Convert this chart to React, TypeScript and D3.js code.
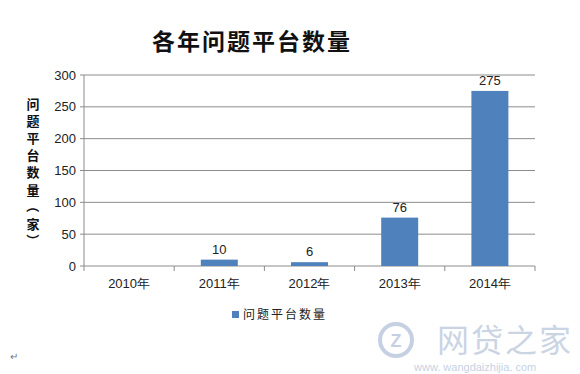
import React from "react";
import * as d3 from "d3";

const categories = ["2010年", "2011年", "2012年", "2013年", "2014年"];
const values: (number | null)[] = [null, 10, 6, 76, 275];
const yTicks = [0, 50, 100, 150, 200, 250, 300];
const title = "各年问题平台数量";
const yLabel = ["问", "题", "平", "台", "数", "量", "（", "家", "）"];
const legendLabel = "问题平台数量";

export default function App() {
  const W = 580, H = 374;
  const left = 84, right = 535, top = 75, bottom = 266;
  const x = d3.scaleBand<string>().domain(categories).range([left, right]).paddingInner(0.59).paddingOuter(0.295);
  const xb = d3.scaleBand<string>().domain(categories).range([left, right]);
  const y = d3.scaleLinear().domain([0, 300]).range([bottom, top]);
  const barColor = "#4F81BD";
  const cjk = "'Noto Sans CJK SC', sans-serif";
  const latin = "Arial, 'Liberation Sans', sans-serif";
  return (
    <svg width={W} height={H} style={{ position: "absolute", left: 0, top: 0, background: "#fff" }}>
      <rect width={W} height={H} fill="#fff" />
      <text x={252} y={50} textAnchor="middle" fontFamily={cjk} fontWeight={700} fontSize={23} letterSpacing={2} fill="#111">{title}</text>
      {yTicks.map(t => (
        <g key={t}>
          {t > 0 && <line x1={left} x2={right} y1={y(t)} y2={y(t)} stroke="#8c8c8c" strokeWidth={1} />}
          <line x1={left - 4} x2={left} y1={y(t)} y2={y(t)} stroke="#8c8c8c" />
          <text x={left - 8} y={y(t) + 4.5} textAnchor="end" fontFamily={latin} fontSize={13} fill="#222">{t}</text>
        </g>
      ))}
      <line x1={left} x2={left} y1={top} y2={bottom} stroke="#8c8c8c" />
      <line x1={left} x2={right} y1={bottom} y2={bottom} stroke="#8c8c8c" />
      {categories.map((c) => (
        <line key={"t" + c} x1={xb(c)!} x2={xb(c)!} y1={bottom} y2={bottom + 5} stroke="#8c8c8c" />
      ))}
      <line x1={right} x2={right} y1={bottom} y2={bottom + 5} stroke="#8c8c8c" />
      {categories.map((c, i) => {
        const v = values[i];
        return (
          <g key={c}>
            {v != null && (
              <>
                <rect x={x(c)!} y={y(v)} width={x.bandwidth()} height={bottom - y(v)} fill={barColor} />
                <text x={x(c)! + x.bandwidth() / 2} y={y(v) - 6} textAnchor="middle" fontFamily={latin} fontSize={13} fill="#222">{v}</text>
              </>
            )}
            <text x={xb(c)! + xb.bandwidth() / 2} y={288} textAnchor="middle" fontFamily={latin} fontSize={13} fill="#222">{c}</text>
          </g>
        );
      })}
      {yLabel.map((ch, i) => {
        const cy = 103 + i * 17.2;
        const isParen = ch === "（" || ch === "）";
        return (
          <text key={i} x={33} y={cy} textAnchor="middle" dominantBaseline="central"
            transform={isParen ? `rotate(90 33 ${cy})` : undefined}
            fontFamily={cjk} fontWeight={700} fontSize={13} fill="#111">{ch}</text>
        );
      })}
      <rect x={232} y={311} width={7} height={7} fill={barColor} />
      <text x={243} y={319} fontFamily={cjk} fontSize={12} letterSpacing={2} fill="#222">{legendLabel}</text>
      <text x={10} y={360} fontFamily={latin} fontSize={10} fill="#777">↵</text>
      <g opacity={0.6}>
        <circle cx={396} cy={340} r={16} fill="none" stroke="#9fb3cf" strokeWidth={4} />
        <text x={396} y={347} textAnchor="middle" fontFamily={latin} fontWeight={700} fontSize={18} fill="#9fb3cf">Z</text>
        <text x={437} y={352} fontFamily={cjk} fontSize={32} fill="#aab9d2" letterSpacing={2}>网贷之家</text>
        <text x={414} y={371} fontFamily={latin} fontSize={11} fill="#9fb3cf">www. wangdaizhijia. com</text>
      </g>
    </svg>
  );
}
